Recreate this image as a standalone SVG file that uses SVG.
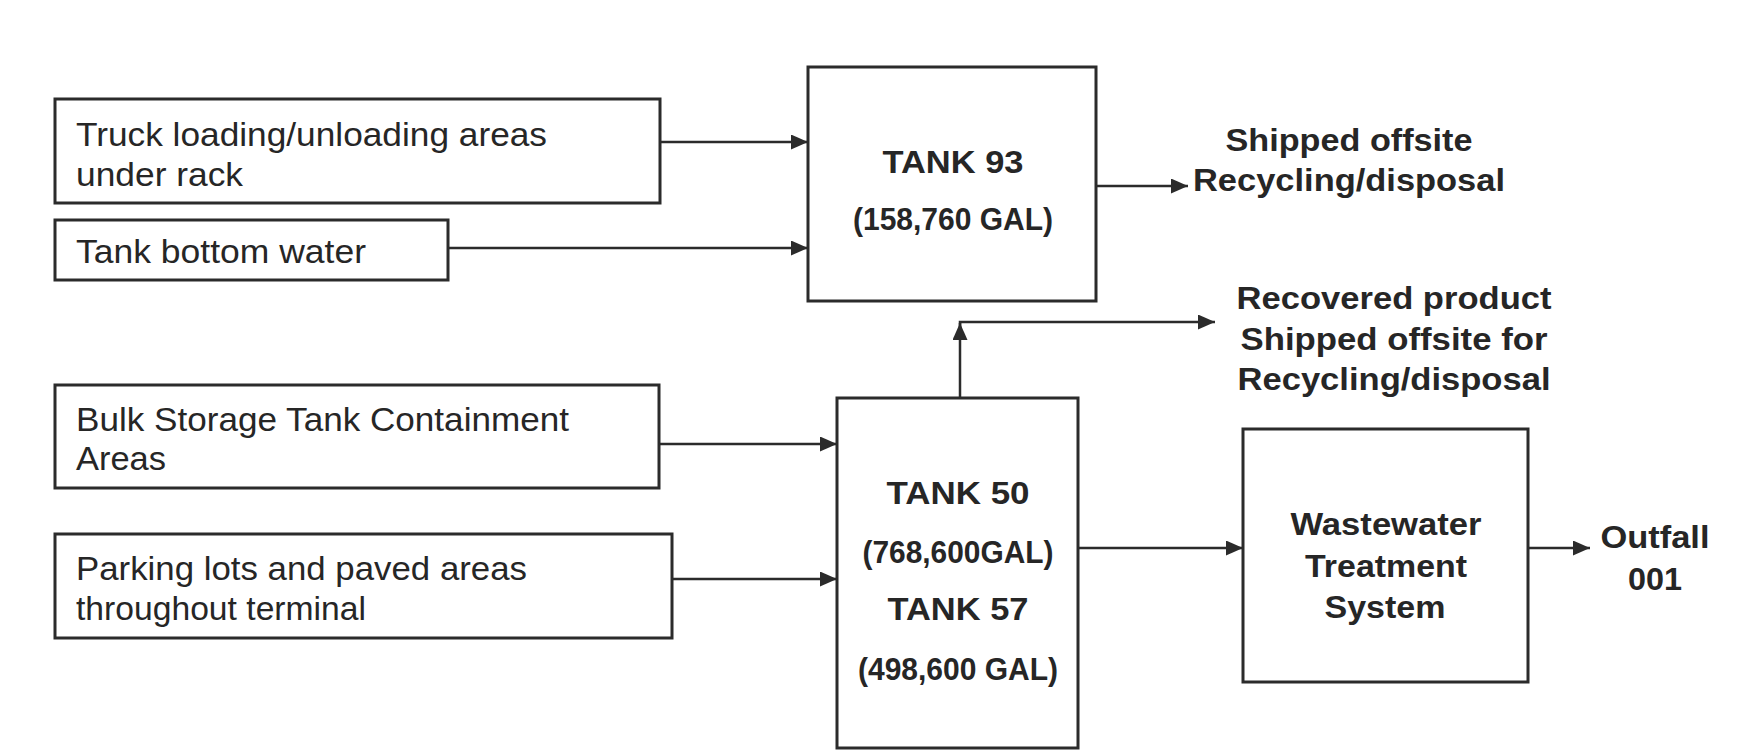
<svg xmlns="http://www.w3.org/2000/svg" width="1754" height="751" viewBox="0 0 1754 751">
<style>
  .box { fill: #ffffff; stroke: #2b2b2b; stroke-width: 3; }
  .conn { fill: none; stroke: #2b2b2b; stroke-width: 2.5; marker-end: url(#ah); }
  .lt { font-family: "Liberation Sans", Arial, sans-serif; font-size: 33px; fill: #262626; }
  .bt { font-family: "Liberation Sans", Arial, sans-serif; font-size: 32px; font-weight: bold; fill: #262626; text-anchor: middle; }
</style>
<defs>
  <marker id="ah" viewBox="0 0 17 15" refX="17" refY="7.5" markerWidth="17" markerHeight="15" markerUnits="userSpaceOnUse" orient="auto">
    <path d="M0,0 L17,7.5 L0,15 z" fill="#2b2b2b"/>
  </marker>
</defs>
<rect width="1754" height="751" fill="#ffffff"/>

<g id="truck">
  <rect class="box" x="55" y="99" width="605" height="104"/>
  <text class="lt" x="76" y="146" textLength="471" lengthAdjust="spacingAndGlyphs">Truck loading/unloading areas</text>
  <text class="lt" x="76" y="186" textLength="167" lengthAdjust="spacingAndGlyphs">under rack</text>
</g>
<g id="tankbottom">
  <rect class="box" x="55" y="220" width="393" height="60"/>
  <text class="lt" x="76" y="263" textLength="290" lengthAdjust="spacingAndGlyphs">Tank bottom water</text>
</g>
<g id="bulk">
  <rect class="box" x="55" y="385" width="604" height="103"/>
  <text class="lt" x="76" y="431" textLength="493" lengthAdjust="spacingAndGlyphs">Bulk Storage Tank Containment</text>
  <text class="lt" x="76" y="470" textLength="90" lengthAdjust="spacingAndGlyphs">Areas</text>
</g>
<g id="parking">
  <rect class="box" x="55" y="534" width="617" height="104"/>
  <text class="lt" x="76" y="580" textLength="451" lengthAdjust="spacingAndGlyphs">Parking lots and paved areas</text>
  <text class="lt" x="76" y="620" textLength="290" lengthAdjust="spacingAndGlyphs">throughout terminal</text>
</g>
<g id="tank93">
  <rect class="box" x="808" y="67" width="288" height="234"/>
  <text class="bt" x="953" y="173" textLength="141" lengthAdjust="spacingAndGlyphs">TANK 93</text>
  <text class="bt" x="953" y="230" textLength="200" lengthAdjust="spacingAndGlyphs">(158,760 GAL)</text>
</g>
<g id="shipped">
  <text class="bt" x="1349" y="151" textLength="247" lengthAdjust="spacingAndGlyphs">Shipped offsite</text>
  <text class="bt" x="1349" y="191" textLength="312" lengthAdjust="spacingAndGlyphs">Recycling/disposal</text>
</g>
<g id="recovered">
  <text class="bt" x="1394" y="309" textLength="315" lengthAdjust="spacingAndGlyphs">Recovered product</text>
  <text class="bt" x="1394" y="350" textLength="307" lengthAdjust="spacingAndGlyphs">Shipped offsite for</text>
  <text class="bt" x="1394" y="390" textLength="313" lengthAdjust="spacingAndGlyphs">Recycling/disposal</text>
</g>
<g id="tank50">
  <rect class="box" x="837" y="398" width="241" height="350"/>
  <text class="bt" x="958" y="504" textLength="143" lengthAdjust="spacingAndGlyphs">TANK 50</text>
  <text class="bt" x="958" y="563" textLength="191" lengthAdjust="spacingAndGlyphs">(768,600GAL)</text>
  <text class="bt" x="958" y="620" textLength="141" lengthAdjust="spacingAndGlyphs">TANK 57</text>
  <text class="bt" x="958" y="680" textLength="200" lengthAdjust="spacingAndGlyphs">(498,600 GAL)</text>
</g>
<g id="wwt">
  <rect class="box" x="1243" y="429" width="285" height="253"/>
  <text class="bt" x="1386" y="535" textLength="191" lengthAdjust="spacingAndGlyphs">Wastewater</text>
  <text class="bt" x="1386" y="577" textLength="162" lengthAdjust="spacingAndGlyphs">Treatment</text>
  <text class="bt" x="1385" y="618" textLength="121" lengthAdjust="spacingAndGlyphs">System</text>
</g>
<g id="outfall">
  <text class="bt" x="1655" y="548" textLength="109" lengthAdjust="spacingAndGlyphs">Outfall</text>
  <text class="bt" x="1655" y="590" textLength="54" lengthAdjust="spacingAndGlyphs">001</text>
</g>

<g id="connectors">
  <line class="conn" x1="660" y1="142" x2="808" y2="142"/>
  <line class="conn" x1="448" y1="248" x2="808" y2="248"/>
  <line class="conn" x1="1096" y1="186" x2="1188" y2="186"/>
  <line class="conn" x1="960" y1="398" x2="960" y2="323"/>
  <path class="conn" d="M960,330 V322 H1215"/>
  <line class="conn" x1="659" y1="444" x2="837" y2="444"/>
  <line class="conn" x1="672" y1="579" x2="837" y2="579"/>
  <line class="conn" x1="1078" y1="548" x2="1243" y2="548"/>
  <line class="conn" x1="1528" y1="548" x2="1590" y2="548"/>
</g>
</svg>
